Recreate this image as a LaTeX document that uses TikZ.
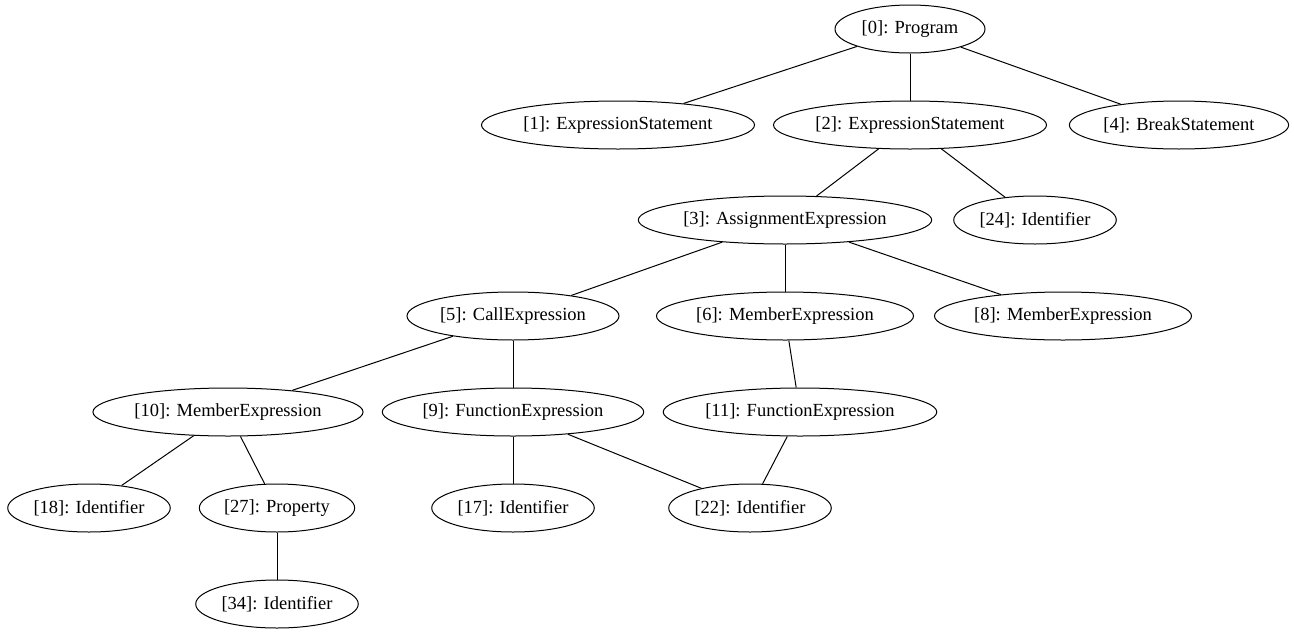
\documentclass[tikz,border=0pt]{standalone}
\usepackage{fontspec}
\setmainfont{Liberation Serif}
\usetikzlibrary{shapes.geometric}

\begin{document}
\begin{tikzpicture}[x=1pt,y=1pt,yscale=-1,xscale=1,
    astnode/.style={draw,ellipse,line width=1pt,inner xsep=2pt,inner ysep=0pt,
        minimum width=150pt,minimum height=48pt,
        font=\fontsize{18.5}{22}\selectfont},
    astedge/.style={line width=1pt}]
    \useasboundingbox (0,0) rectangle (1294,635);

    % Nodes
    \node [astnode] (n0) at (910,29) {[0]: Program};
    \node [astnode] (n1) at (618,125) {[1]: ExpressionStatement};
    \node [astnode] (n2) at (910,125) {[2]: ExpressionStatement};
    \node [astnode] (n4) at (1179,125) {[4]: BreakStatement};
    \node [astnode] (n3) at (785,220) {[3]: AssignmentExpression};
    \node [astnode] (n24) at (1035,220) {[24]: Identifier};
    \node [astnode] (n5) at (513,316) {[5]: CallExpression};
    \node [astnode] (n6) at (785,316) {[6]: MemberExpression};
    \node [astnode] (n8) at (1063,316) {[8]: MemberExpression};
    \node [astnode] (n10) at (228,412) {[10]: MemberExpression};
    \node [astnode] (n9) at (513,412) {[9]: FunctionExpression};
    \node [astnode] (n11) at (800,412) {[11]: FunctionExpression};
    \node [astnode] (n18) at (89,508) {[18]: Identifier};
    \node [astnode] (n27) at (277,508) {[27]: Property};
    \node [astnode] (n17) at (513,508) {[17]: Identifier};
    \node [astnode] (n22) at (750,508) {[22]: Identifier};
    \node [astnode] (n34) at (277,604) {[34]: Identifier};

    % Edges
    \draw [astedge] (n0) -- (n1);
    \draw [astedge] (n0) -- (n2);
    \draw [astedge] (n0) -- (n4);
    \draw [astedge] (n2) -- (n3);
    \draw [astedge] (n2) -- (n24);
    \draw [astedge] (n3) -- (n5);
    \draw [astedge] (n3) -- (n6);
    \draw [astedge] (n3) -- (n8);
    \draw [astedge] (n5) -- (n10);
    \draw [astedge] (n5) -- (n9);
    \draw [astedge] (n6) -- (n11);
    \draw [astedge] (n10) -- (n18);
    \draw [astedge] (n10) -- (n27);
    \draw [astedge] (n9) -- (n17);
    \draw [astedge] (n9) -- (n22);
    \draw [astedge] (n11) -- (n22);
    \draw [astedge] (n27) -- (n34);
\end{tikzpicture}
\end{document}
